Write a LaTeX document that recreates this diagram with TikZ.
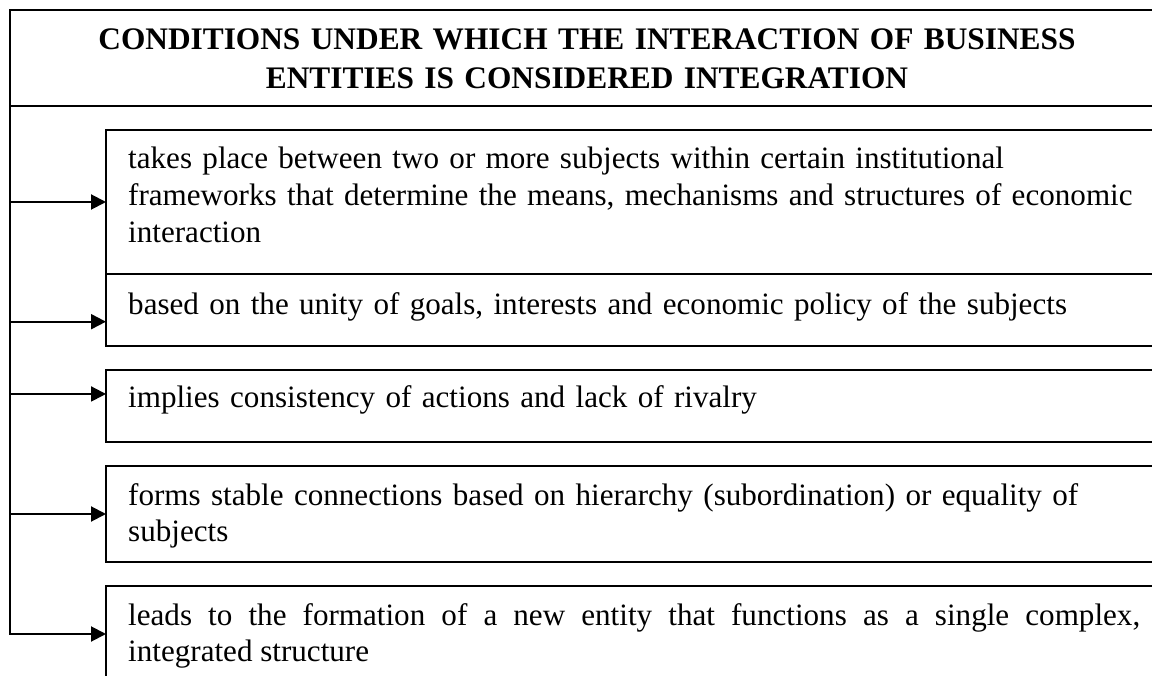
\documentclass[tikz,border=0pt]{standalone}
\usepackage{fontspec}
\setmainfont{Liberation Serif}
\usetikzlibrary{arrows.meta,calc}
\hyphenpenalty=10000
\exhyphenpenalty=10000
\begin{document}
\begin{tikzpicture}[x=1pt,y=-1pt,
  frame/.style={draw, line width=2pt, rectangle, inner sep=0pt, outer sep=0pt,
                anchor=north west},
  body/.style={font=\fontsize{31.1}{36.8}\selectfont, inner sep=0pt,
               text width=1012pt, anchor=base west, align=left},
  heading/.style={font=\fontsize{31.35}{39}\selectfont\bfseries, inner sep=0pt,
                  text width=1100pt, align=center, anchor=base},
  feed/.style={line width=2pt, -{Triangle[length=15pt,width=15pt]}}]
\useasboundingbox (0,0) rectangle (1152,676);
\clip (0,0) rectangle (1152,676);

% heading frame and its text
\node[frame, minimum width=1155pt, minimum height=96pt] (title) at (10,10) {};
\node[heading] (head) at (587,49.3)
  {CONDITIONS UNDER WHICH THE INTERACTION OF BUSINESS\\ENTITIES IS CONSIDERED INTEGRATION};

% condition boxes
\node[frame, minimum width=1059pt, minimum height=144pt] (b1) at (106,130) {};
\node[frame, minimum width=1059pt, minimum height=72pt]  (b2) at (106,274) {};
\node[frame, minimum width=1059pt, minimum height=72pt]  (b3) at (106,370) {};
\node[frame, minimum width=1059pt, minimum height=96pt]  (b4) at (106,466) {};
\node[frame, minimum width=1059pt, minimum height=96pt]  (b5) at (106,586) {};

% condition texts
\node[body] (t1) at (128,169) {takes place between two or more subjects within certain institutional\\frameworks that determine the means, mechanisms and structures of economic\\interaction};
\node[body] (t2) at (128,315) {based on the unity of goals, interests and economic policy of the subjects};
\node[body] (t3) at (128,408) {implies consistency of actions and lack of rivalry};
\node[body] (t4) at (128,505) {forms stable connections based on hierarchy (subordination) or equality of\\subjects};
\node[body, align=justify] (t5) at (128,625) {leads to the formation of a new entity that functions as a single complex,\linebreak integrated structure};

% arrow entry points on the boxes
\coordinate (p1) at ($(b1.north west)!0.5!(b1.south west)$);
\coordinate (p2) at ($(b2.north west)!0.6625!(b2.south west)$);
\coordinate (p3) at ($(b3.north west)!0.333!(b3.south west)$);
\coordinate (p4) at ($(b4.north west)!0.5!(b4.south west)$);
\coordinate (p5) at ($(b5.north west)!0.5!(b5.south west)$);

% trunk down the left side and the branches
\draw[feed] (title.south west) |- (p5);
\draw[feed] (title.west |- p1) -- (p1);
\draw[feed] (title.west |- p2) -- (p2);
\draw[feed] (title.west |- p3) -- (p3);
\draw[feed] (title.west |- p4) -- (p4);
\end{tikzpicture}
\end{document}
